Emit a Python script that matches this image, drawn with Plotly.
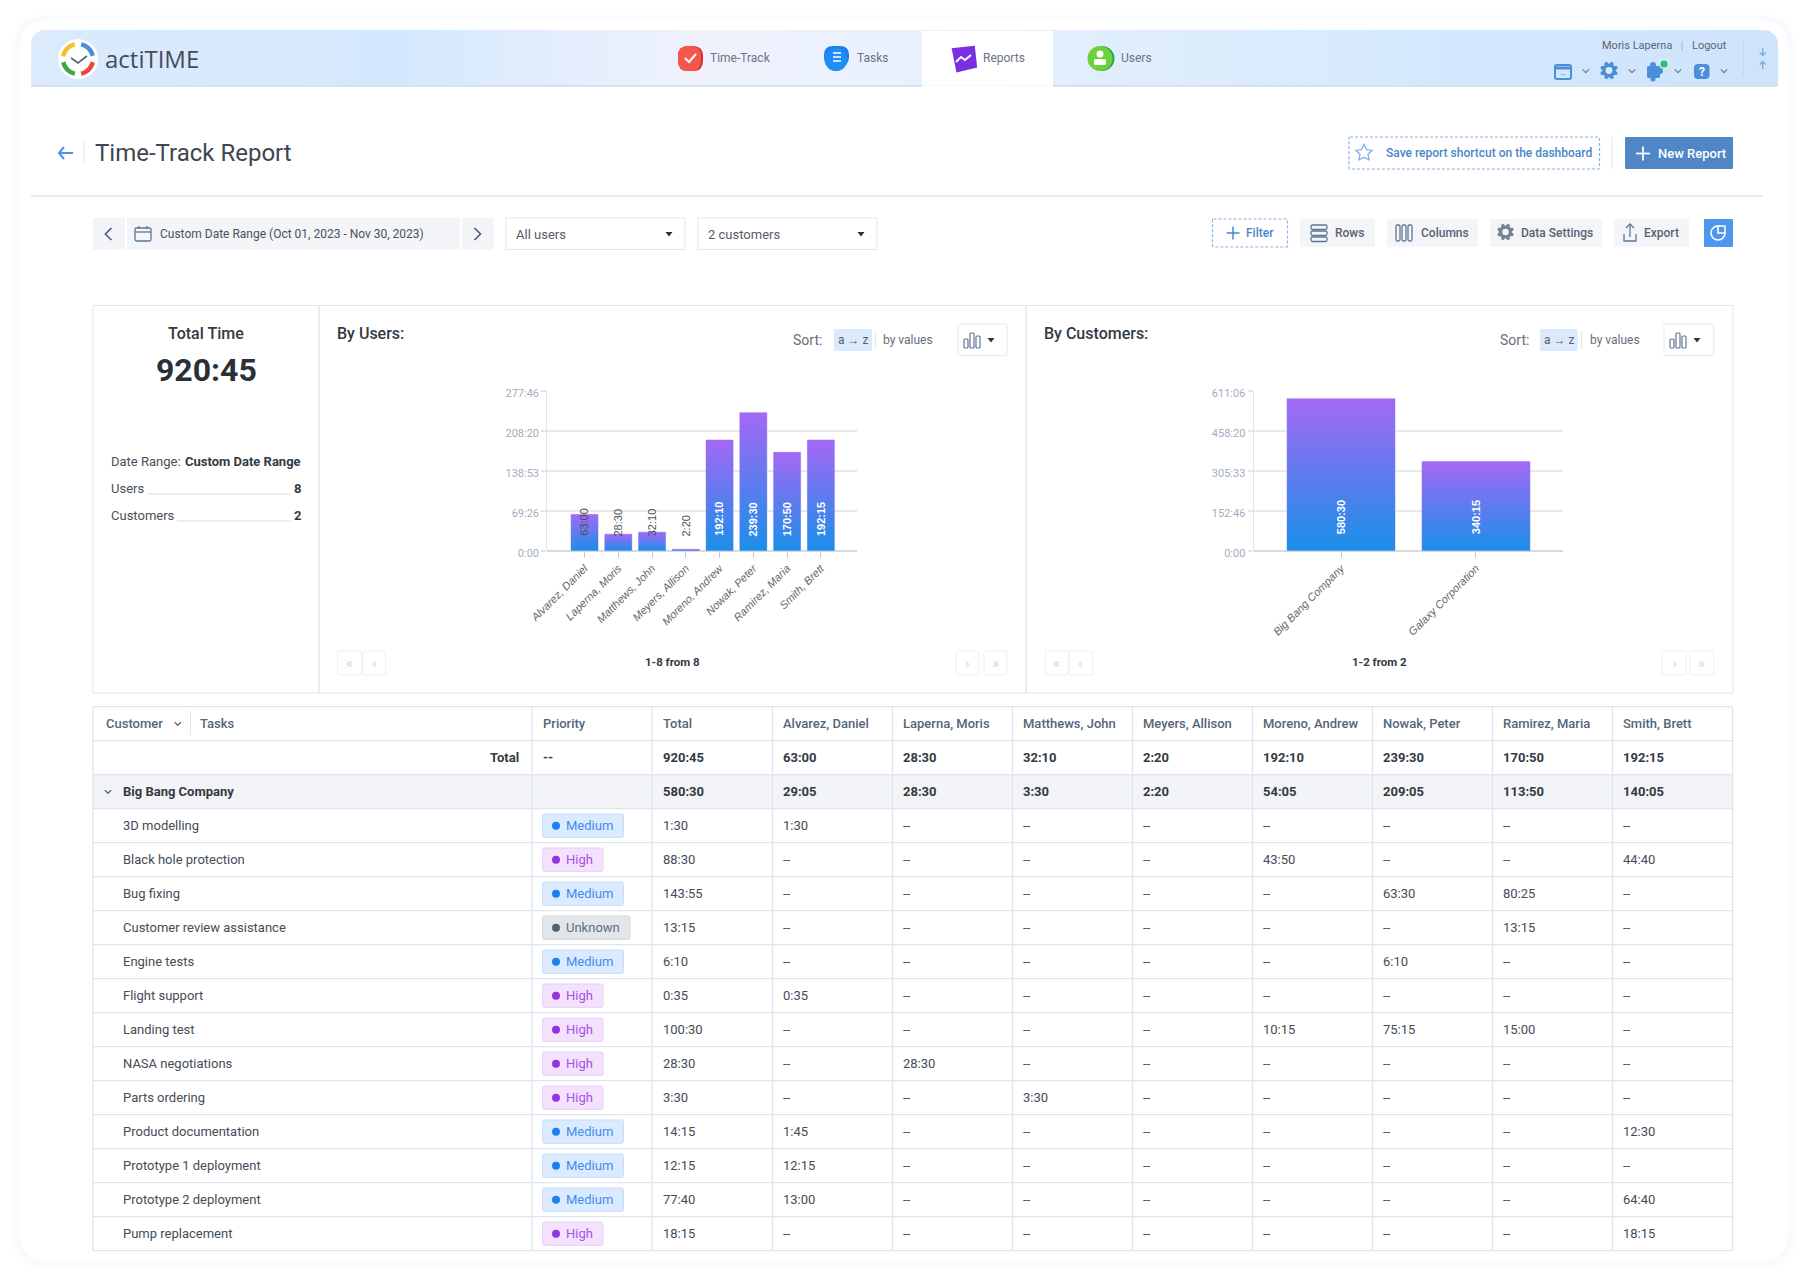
import numpy as np
import plotly.graph_objects as go

FONT = "Roboto"
CHART_FONT = "Liberation Sans"

user_names = ["Alvarez, Daniel", "Laperna, Moris", "Matthews, John", "Meyers, Allison",
              "Moreno, Andrew", "Nowak, Peter", "Ramirez, Maria", "Smith, Brett"]
user_times = ["63:00", "28:30", "32:10", "2:20", "192:10", "239:30", "170:50", "192:15"]
user_ticks = ["0:00", "69:26", "138:53", "208:20", "277:46"]

customer_names = ["Big Bang Company", "Galaxy Corporation"]
customer_times = ["580:30", "340:15"]
customer_ticks = ["0:00", "152:46", "305:33", "458:20", "611:06"]

# table values
task_names = ["3D modelling", "Black hole protection", "Bug fixing", "Customer review assistance",
              "Engine tests", "Flight support", "Landing test", "NASA negotiations", "Parts ordering",
              "Product documentation", "Prototype 1 deployment", "Prototype 2 deployment", "Pump replacement"]
task_priority = ["Medium", "High", "Medium", "Unknown", "Medium", "High", "High", "High", "High",
                 "Medium", "Medium", "Medium", "High"]
task_total = ["1:30", "88:30", "143:55", "13:15", "6:10", "0:35", "100:30", "28:30", "3:30",
              "14:15", "12:15", "77:40", "18:15"]
total_row = ["920:45", "63:00", "28:30", "32:10", "2:20", "192:10", "239:30", "170:50", "192:15"]
group_row = ["580:30", "29:05", "28:30", "3:30", "2:20", "54:05", "209:05", "113:50", "140:05"]
alvarez = ["1:30", "--", "--", "--", "--", "0:35", "--", "--", "--", "1:45", "12:15", "13:00", "--"]
laperna = ["--", "--", "--", "--", "--", "--", "--", "28:30", "--", "--", "--", "--", "--"]
matthews = ["--", "--", "--", "--", "--", "--", "--", "--", "3:30", "--", "--", "--", "--"]
meyers = ["--", "--", "--", "--", "--", "--", "--", "--", "--", "--", "--", "--", "--"]
moreno = ["--", "43:50", "--", "--", "--", "--", "10:15", "--", "--", "--", "--", "--", "--"]
nowak = ["--", "--", "63:30", "--", "6:10", "--", "75:15", "--", "--", "--", "--", "--", "--"]
ramirez = ["--", "--", "80:25", "13:15", "--", "--", "15:00", "--", "--", "--", "--", "--", "--"]
smith = ["--", "44:40", "--", "--", "--", "--", "--", "--", "--", "12:30", "--", "64:40", "18:15"]
user_columns = [alvarez, laperna, matthews, meyers, moreno, nowak, ramirez, smith]

PRIORITY_STYLE = {
    "Medium": dict(right=623.5, fill="#dbeafe", line="#c6def9", text="#3f8df0", dot="#1f7ff0"),
    "High": dict(right=603, fill="#f3e1fd", line="#e8d0f8", text="#a552e8", dot="#9333e0"),
    "Unknown": dict(right=630, fill="#e2e6ea", line="#d2d8de", text="#5f6e7e", dot="#4f6072"),
}

GRID = "#dfe5ef"
BLUE = "#4a86c8"
GREY = "#596270"

shapes = []
annots = []


def hours(text):
    h, m = text.split(":")
    return int(h) + int(m) / 60


def rrect_path(x0, y0, x1, y1, r):
    return (f"M{x0+r},{y0} L{x1-r},{y0} Q{x1},{y0} {x1},{y0+r} L{x1},{y1-r} Q{x1},{y1} {x1-r},{y1} "
            f"L{x0+r},{y1} Q{x0},{y1} {x0},{y1-r} L{x0},{y0+r} Q{x0},{y0} {x0+r},{y0} Z")


def box(x0, y0, x1, y1, fill="rgba(0,0,0,0)", line=None, width=1, r=2, dash=None, layer="above"):
    line_d = dict(color=line or "rgba(0,0,0,0)", width=width if line else 0)
    if dash:
        line_d["dash"] = dash
    shapes.append(dict(type="path", path=rrect_path(x0, y0, x1, y1, r), xref="x", yref="y",
                       fillcolor=fill, line=line_d, layer=layer))


def seg(x0, y0, x1, y1, color=GRID, width=1.3):
    shapes.append(dict(type="line", x0=x0, y0=y0, x1=x1, y1=y1, xref="x", yref="y",
                       line=dict(color=color, width=width), layer="above"))


def poly(points, color=None, fill=None, width=1.5, close=False):
    path = "M" + " L".join(f"{x:.2f},{y:.2f}" for x, y in points) + (" Z" if close else "")
    shapes.append(dict(type="path", path=path, xref="x", yref="y", layer="above",
                       fillcolor=fill or "rgba(0,0,0,0)",
                       line=dict(color=color or "rgba(0,0,0,0)", width=width if color else 0)))


def disc(cx, cy, r, fill, line=None, width=1):
    shapes.append(dict(type="circle", x0=cx-r, x1=cx+r, y0=cy-r, y1=cy+r, xref="x", yref="y", layer="above",
                       fillcolor=fill, line=dict(color=line or "rgba(0,0,0,0)", width=width if line else 0)))


def arc(cx, cy, r, a0, a1, color, width):
    t = np.radians(np.linspace(a0, a1, 16))
    poly(list(zip(cx + r*np.sin(t), cy - r*np.cos(t))), color=color, width=width)


def chevron(cx, cy, s, color, way="down", width=1.3):
    if way == "down":
        pts = [(cx-s, cy-s/2), (cx, cy+s/2), (cx+s, cy-s/2)]
    elif way == "left":
        pts = [(cx+s/2, cy-s), (cx-s/2, cy), (cx+s/2, cy+s)]
    else:
        pts = [(cx-s/2, cy-s), (cx+s/2, cy), (cx-s/2, cy+s)]
    poly(pts, color=color, width=width)


def caret(cx, cy, color="#333333"):
    poly([(cx-3.5, cy-2), (cx+3.5, cy-2), (cx, cy+2.5)], fill=color, close=True)


def gear(cx, cy, r, color, hole):
    t = np.radians(np.arange(0, 360, 15))
    rad = np.where(np.arange(24) % 3 == 0, r*0.72, r)
    rad = np.where(np.arange(24) % 3 == 1, r, rad)
    poly(list(zip(cx + rad*np.sin(t), cy - rad*np.cos(t))), fill=color, close=True)
    disc(cx, cy, r*0.38, hole)


def star(cx, cy, r, color):
    t = np.radians(np.arange(0, 360, 36))
    rad = np.where(np.arange(10) % 2 == 0, r, r*0.5)
    poly(list(zip(cx + rad*np.sin(t), cy - rad*np.cos(t))), color=color, close=True, width=1.3)


def bar_icon(x0, y1, color):
    for dx, h in ((0, 9), (6, 15), (12, 12)):
        box(x0+dx, y1-h, x0+dx+4, y1, line=color, width=1.2, r=1)


def label(x, y, text, size=13, color="#454c56", anchor="left", weight=400, family=FONT, **kw):
    # annotations carry a small inner pad, take it back so the text sits where it was read
    x = x + {"left": -1.2, "right": 1.5, "center": 0}[anchor]
    annots.append(dict(x=x, y=y, xref="x", yref="y", text=text, showarrow=False, xanchor=anchor,
                       yanchor="middle", font=dict(family=family, size=size, color=color, weight=weight),
                       borderpad=0, **kw))


# card with its soft shadow
box(12, 13, 1796, 1270, fill="#fdfdfe", r=34, layer="below")
box(16, 16, 1792, 1266, fill="#f9fafc", r=32, layer="below")
box(20, 20, 1788, 1261, fill="#ffffff", r=28, layer="below")

# header bar: white tab, logo, icons, texts
box(922, 31, 1053, 85.5, fill="#ffffff", r=0)
seg(31, 86, 922, 86, color="#cfdded", width=1.3)
seg(1053, 86, 1778, 86, color="#cfdded", width=1.3)
disc(78, 59, 20, "#ffffff")
arc(78, 59, 15, -80, -12, "#f2c230", 4.5)
arc(78, 59, 15, 12, 78, "#4a90d9", 4.5)
arc(78, 59, 15, 102, 168, "#e8483c", 4.5)
arc(78, 59, 15, 192, 258, "#3fa64a", 4.5)
poly([(71, 58), (78, 63), (87, 56)], color="#566070", width=1.6)
label(105, 58.5, "actiTIME", size=24, color="#454c56", family="Open Sans")

box(678, 46, 703, 71, fill="#d7303b", r=10)
box(678, 46, 701, 71, fill="#f5564a", r=10)
poly([(685, 58), (689, 62), (696, 54)], color="#ffffff", width=2)
box(824, 46, 849, 66, fill="#1f7df0", r=9)
disc(836, 59.5, 11.5, "#1f8df5")
for dy in (-4, 0, 4):
    seg(833, 57+dy, 841, 57+dy, color="#ffffff", width=1.5)
poly([(954, 50), (973, 48), (975, 66), (958, 70)], fill="#7a2fe0", color="#7a2fe0", width=4, close=True)
poly([(956, 62), (961, 57), (965, 60), (971, 55)], color="#ffffff", width=2)
disc(1102, 58.5, 12.5, "#2aa54a")
disc(1100, 58.5, 12.5, "#6cd23c")
disc(1100, 54, 3.5, "#ffffff")
box(1094, 59, 1106, 65, fill="#ffffff", r=1.5)
label(710.5, 58, "Time-Track", size=12, color="#6b7380")
label(857, 58, "Tasks", size=12, color="#6b7380")
label(983, 58, "Reports", size=12, color="#6b7380")
label(1121, 58, "Users", size=12, color="#6b7380")

label(1602, 45.5, "Moris Laperna", size=11, color="#5c6470")
seg(1682, 41, 1682, 51, color="#aab4c2", width=1)
label(1692, 45.5, "Logout", size=11, color="#5c6470")

box(1555, 65, 1571, 79, line="#4b8fd9", width=2, r=2)
seg(1555, 68, 1571, 68, color="#4b8fd9", width=3)
label(1563, 73.5, "↔", size=8, color="#4b8fd9", anchor="center")
gear(1609, 70.5, 9, "#4b8fd9", "#d8e9fd")
box(1647, 66, 1660, 78, fill="#4b8fd9", r=1)
disc(1653, 65, 3, "#4b8fd9")
disc(1660, 71, 3, "#4b8fd9")
disc(1653, 79, 2.5, "#4b8fd9")
disc(1664, 64, 3.5, "#2fbf71")
box(1694, 64, 1709.5, 79, fill="#4b8fd9", r=4)
label(1701.7, 71.5, "?", size=12, color="#ffffff", anchor="center", weight=700)
for cx in (1585.7, 1632, 1678, 1724):
    chevron(cx, 71, 3.2, "#6f7f92")
seg(1743.7, 40, 1743.7, 76, color="#bfd6ee", width=1)
seg(1762.7, 48, 1762.7, 55, color="#7aa7e0", width=1.3)
chevron(1762.7, 54, 3, "#7aa7e0")
seg(1762.7, 62, 1762.7, 69, color="#7aa7e0", width=1.3)
poly([(1759.7, 64.5), (1762.7, 61.5), (1765.7, 64.5)], color="#7aa7e0", width=1.3)

# page title row
poly([(64, 147), (59, 153), (64, 159)], color="#4d90e6", width=2)
seg(59, 153, 73, 153, color="#4d90e6", width=2)
seg(84, 142, 84, 163, color="#dfe5ef", width=1)
label(95, 153, "Time-Track Report", size=24, color="#3f4650")
box(1349, 137, 1599.5, 169, line="#85b4ea", width=1.2, dash="3px,2px", r=1)
star(1364, 153, 8.5, "#7db0ea")
label(1386.5, 153, "Save report shortcut on the dashboard", size=12, color=BLUE, weight=500)
seg(1612, 137, 1612, 169, color="#e3e7ee", width=1)
box(1625, 137, 1733, 169, fill="#4f86c6", r=1)
seg(1636, 153.5, 1650, 153.5, color="#ffffff", width=1.7)
seg(1643, 146.5, 1643, 160.5, color="#ffffff", width=1.7)
label(1658, 153, "New Report", size=13, color="#ffffff", weight=500)
seg(31, 196, 1763, 196, color="#e0e3e8", width=1.3)

# date range and selectors
for x0, x1 in ((93, 125), (127, 460), (462, 494)):
    box(x0, 218, x1, 250, fill="#f3f5f9", r=1)
chevron(108.4, 234, 6, "#46597a", way="left", width=1.6)
chevron(477.5, 234, 6, "#46597a", way="right", width=1.6)
box(135, 228, 151, 241, line="#5f7694", width=1.3, r=1.5)
seg(135, 232, 151, 232, color="#5f7694", width=1.3)
seg(139, 226, 139, 229, color="#5f7694", width=1.3)
seg(147, 226, 147, 229, color="#5f7694", width=1.3)
label(160, 233.5, "Custom Date Range (Oct 01, 2023 - Nov 30, 2023)", size=12, color="#4a5260")
box(506, 218, 685, 249.5, line="#e2e5ec", r=1, fill="#ffffff")
box(698, 218, 877, 249.5, line="#e2e5ec", r=1, fill="#ffffff")
label(516, 234.5, "All users", size=13, color="#555c68")
label(708, 234.5, "2 customers", size=13, color="#555c68")
caret(669, 234)
caret(861, 234)

# toolbar
box(1212.5, 219, 1287.5, 247, line="#85b4ea", width=1.2, dash="3px,2px", r=1)
seg(1226.5, 233, 1239.5, 233, color=BLUE, width=1.5)
seg(1233, 226.5, 1233, 239.5, color=BLUE, width=1.5)
label(1246, 232.5, "Filter", size=12, color=BLUE, weight=500)
for x0, x1 in ((1300, 1375), (1387, 1478), (1490, 1602), (1614, 1689)):
    box(x0, 219, x1, 247, fill="#f3f5f9", r=1)
for y0 in (225, 231, 237):
    box(1311, y0, 1327, y0+4.5, line="#5f7694", width=1.3, r=1.5)
for x0 in (1396, 1402, 1408):
    box(x0, 225, x0+4, 241, line="#5f7694", width=1.3, r=1.5)
gear(1505.5, 232, 8.5, "#77828f", "#f3f5f9")
seg(1630, 224, 1630, 237, color="#5f7694", width=1.3)
poly([(1626, 228), (1630, 224), (1634, 228)], color="#5f7694", width=1.3)
poly([(1624, 234), (1624, 241), (1636, 241), (1636, 234)], color="#5f7694", width=1.3)
label(1335, 232.5, "Rows", size=12, color=GREY, weight=500)
label(1421, 232.5, "Columns", size=12, color=GREY, weight=500)
label(1521.5, 232.5, "Data Settings", size=12, color=GREY, weight=500)
label(1644, 232.5, "Export", size=12, color=GREY, weight=500)
box(1704, 219, 1733, 247, fill="#4e97ee", r=1)
disc(1718, 233, 7, "#4e97ee", line="#ffffff", width=1.5)
poly([(1718, 233), (1718, 226), (1725, 226), (1725, 233)], color="#ffffff", fill="#4e97ee", width=1.5, close=True)

# report panel
box(93, 305.5, 1733, 693, line=GRID, r=0)
seg(319, 305.5, 319, 693)
seg(1026, 305.5, 1026, 693)
label(206, 333, "Total Time", size=16, color="#333a42", anchor="center", weight=500)
label(206, 370, "920:45", size=32, color="#2b3036", anchor="center", weight=700)
label(111.5, 461, "Date Range:", size=13, color="#4a5058")
label(300, 461, "Custom Date Range", size=13, color="#333a42", anchor="right", weight=700)
label(111.5, 488, "Users", size=13, color="#4a5058")
label(300, 488, "8", size=13, color="#333a42", anchor="right", weight=700)
seg(147, 494, 291, 494, color="#d9dfea", width=1)
label(111.5, 515, "Customers", size=13, color="#4a5058")
label(300, 515, "2", size=13, color="#333a42", anchor="right", weight=700)
seg(177, 521, 291, 521, color="#d9dfea", width=1)

for title, title_x, sort_x, pill, sep_x, by_x, btn, icon_x, caret_x, page_l, page_r, page_text, page_x in (
    ("By Users:", 337.6, 793, (834, 872), 875.4, 883, (958, 1007), 964, 991,
     ((337.6, 361.6), (363, 385.6)), ((956, 979), (984, 1007)), "1-8 from 8", 672),
    ("By Customers:", 1044, 1500, (1540, 1577.7), 1581.5, 1590, (1664, 1713.7), 1670, 1697,
     ((1045, 1068.4), (1069, 1092.6)), ((1662, 1686), (1690, 1713.7)), "1-2 from 2", 1379),
):
    label(title_x, 333.5, title, size=16, color="#333a42", weight=500)
    label(sort_x, 340, "Sort:", size=14, color="#666d78")
    box(pill[0], 329, pill[1], 351, fill="#dbe9fc", r=2)
    label((pill[0]+pill[1])/2, 340, "a → z", size=12, color="#566070", anchor="center")
    seg(sep_x, 331, sep_x, 349, color="#dfe5ef", width=1)
    label(by_x, 340, "by values", size=12, color="#666d78")
    box(btn[0], 324, btn[1], 355.7, line="#e6e9ef", r=1, fill="#ffffff")
    bar_icon(icon_x, 348, "#5f7694")
    caret(caret_x, 340)
    for (x0, x1), ch in zip(page_l + page_r, ("«", "‹", "›", "»")):
        box(x0, 651, x1, 675, line="#eceff4", r=2, fill="#ffffff")
        label((x0+x1)/2, 662.5, ch, size=15, color="#cfd7e3", anchor="center")
    label(page_x, 662, page_text, size=11.5, color="#333a42", anchor="center", weight=700)

# report table
TOP = 706.7
ROW = 34
col_x = [93, 532, 652, 772.5, 892.5, 1012.5, 1132.5, 1252.5, 1372.5, 1492.5, 1612.5, 1732.5]
row_count = len(task_names) + 3
box(93, TOP+2*ROW, 1732.5, TOP+3*ROW, fill="#f2f4f8", r=0)
for i in range(row_count + 1):
    seg(93, TOP+i*ROW, 1732.5, TOP+i*ROW)
for x in col_x:
    seg(x, TOP, x, TOP+row_count*ROW)


def row_y(i):
    return TOP + (i + 0.5) * ROW


HEAD = "#566578"
label(106, row_y(0), "Customer", size=13, color=HEAD, weight=500)
chevron(177.8, row_y(0), 3.2, HEAD)
seg(190.5, TOP+5, 190.5, TOP+29, color="#e3e7ee", width=1)
label(200.5, row_y(0), "Tasks", size=13, color=HEAD, weight=500)
label(543, row_y(0), "Priority", size=13, color=HEAD, weight=500)
label(663, row_y(0), "Total", size=13, color=HEAD, weight=500)
for x, name in zip(col_x[3:], user_names):
    label(x+11, row_y(0), name, size=13, color=HEAD, weight=500)

label(518, row_y(1), "Total", size=13, color="#333a42", anchor="right", weight=700)
label(543, row_y(1), "--", size=13, color="#333a42", weight=700)
chevron(108, row_y(2), 3.2, "#566578")
label(123.5, row_y(2), "Big Bang Company", size=13, color="#333a42", weight=700)
for x, a, b in zip(col_x[2:], total_row, group_row):
    label(x+11, row_y(1), a, size=13, color="#333a42", weight=700)
    label(x+11, row_y(2), b, size=13, color="#333a42", weight=700)

for i, (task, pri, tot) in enumerate(zip(task_names, task_priority, task_total)):
    y = row_y(i + 3)
    style = PRIORITY_STYLE[pri]
    label(123.5, y, task, size=13)
    box(542.6, y-11.7, style["right"], y+11.7, fill=style["fill"], line=style["line"], r=2)
    disc(556, y, 4, style["dot"])
    label(566.5, y, pri, size=13, color=style["text"])
    label(663, y, tot, size=13)
    for x, col in zip(col_x[3:], user_columns):
        label(x+11, y, col[i], size=13)


def chart_traces(times, xaxis, yaxis):
    values = [hours(t) for t in times]
    idx = list(range(len(values)))
    traces = [go.Bar(x=idx, y=values, width=0.8, xaxis=xaxis, yaxis=yaxis, hoverinfo="skip",
                     marker=dict(color="#5f80ee", line=dict(color="#c9b8fb", width=1)))]
    for i, v in zip(idx, values):
        traces.append(go.Scatter(x=[i-0.4, i-0.4, i+0.4, i+0.4, i-0.4], y=[0, v, v, 0, 0],
                                 mode="lines", line=dict(width=0), fill="toself", hoverinfo="skip",
                                 xaxis=xaxis, yaxis=yaxis,
                                 fillgradient=dict(type="vertical", start=0, stop=v,
                                                   colorscale=[[0, "#1a8fe8"], [1, "#a468f5"]])))
    return traces


def bar_labels(times, xref, yref, shift):
    for i, t in enumerate(times):
        tall = hours(t) > 100
        annots.append(dict(x=i, y=0, xref=xref, yref=yref, text=t, showarrow=False, textangle=-90,
                           yanchor="bottom", xanchor="center", yshift=shift, borderpad=0,
                           font=dict(family=CHART_FONT, size=11, weight=700 if tall else 400,
                                     color="#ffffff" if tall else "#4d5258")))


def chart_axes(names, ticks, lo, hi, x_dom, top, bottom):
    xax = dict(domain=[x_dom[0]/1808, x_dom[1]/1808], range=[lo, hi], tickmode="array",
               tickvals=list(range(len(names))), ticktext=names, tickangle=-45, ticks="outside",
               ticklen=6, tickcolor="#c8c8c8", tickwidth=1.3, showgrid=False, zeroline=False,
               showline=False, fixedrange=True, automargin=False,
               tickfont=dict(family=CHART_FONT, size=11, color="#666666", style="italic"))
    yax = dict(domain=[(1282-bottom)/1282, (1282-top)/1282], range=[0, hours(ticks[-1])], tickmode="array",
               tickvals=[hours(t) for t in ticks], ticktext=ticks, ticks="outside", ticklen=5,
               tickcolor="#e4e4e4", tickwidth=2, showgrid=True, gridcolor="#e8e8e8", gridwidth=2,
               zeroline=True, zerolinecolor="#dadada", zerolinewidth=2, showline=True, linecolor="#dfe4ee",
               linewidth=1.3, fixedrange=True, automargin=False, ticklabelshift=2,
               tickfont=dict(family=FONT, size=11, color="#a3adbf"))
    return xax, yax


def header_band():
    # outline of the blue header, rounded at the top corners
    t = np.radians(np.linspace(0, 90, 10))
    xs = [31, *(31 + 14 - 14*np.cos(t)), *(1778 - 14 + 14*np.sin(t)), 1778, 31]
    ys = [86, *(30 + 14 - 14*np.sin(t)), *(30 + 14 - 14*np.cos(t)), 86, 86]
    return go.Scatter(x=xs, y=ys, mode="lines", line=dict(width=0), fill="toself", hoverinfo="skip",
                      xaxis="x", yaxis="y",
                      fillgradient=dict(type="horizontal", colorscale=[
                          [0, "#dbeafd"], [0.21, "#d4e8fd"], [0.38, "#eff2fd"], [0.5, "#e9f1fd"],
                          [0.64, "#dfedfd"], [0.83, "#d2e8fe"], [1, "#cfe4fb"]]))


fig = go.Figure()
fig.add_trace(header_band())
fig.add_traces(chart_traces(user_times, "x2", "y2"))
fig.add_traces(chart_traces(customer_times, "x3", "y3"))
bar_labels(user_times, "x2", "y2", 13.5)
bar_labels(customer_times, "x3", "y3", 15.5)

x2, y2 = chart_axes(user_names, user_ticks, -1.10, 8.07, (547.4, 857), 390.7, 550.7)
x3, y3 = chart_axes(customer_names, customer_ticks, -0.647, 1.647, (1253.7, 1563.3), 390.7, 550.7)
x2["anchor"] = "y2"
y2["anchor"] = "x2"
x3["anchor"] = "y3"
y3["anchor"] = "x3"

fig.update_layout(
    width=1808, height=1282, margin=dict(l=0, r=0, t=0, b=0, pad=0),
    paper_bgcolor="#ffffff", plot_bgcolor="rgba(0,0,0,0)", showlegend=False, barmode="overlay",
    xaxis=dict(domain=[0, 1], range=[0, 1808], visible=False, fixedrange=True, automargin=False),
    yaxis=dict(domain=[0, 1], range=[1282, 0], visible=False, fixedrange=True, automargin=False),
    xaxis2=x2, yaxis2=y2, xaxis3=x3, yaxis3=y3,
    shapes=shapes, annotations=annots,
)

# the page's default 8px body margin would push the whole figure off
fig.write_html("out.html", config={"displayModeBar": False},
               post_script="document.body.style.margin = '0';")
